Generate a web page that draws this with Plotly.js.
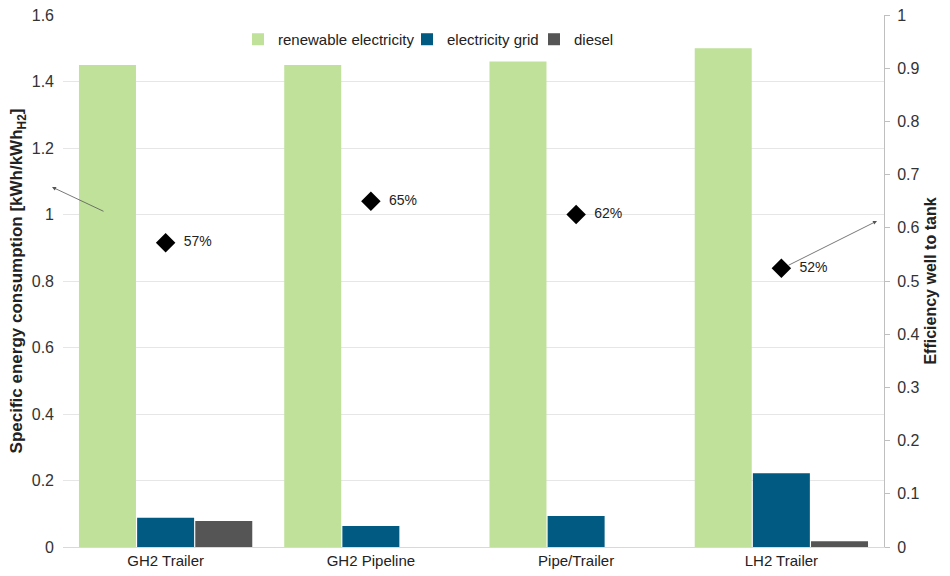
<!DOCTYPE html>
<html><head><meta charset="utf-8">
<script src="https://cdn.plot.ly/plotly-3.0.1.min.js"></script>
<style>body{margin:0;background:#fff}#c{width:950px;height:576px}</style>
</head><body><div id="c"></div>
<script>
const categories = ["GH2 Trailer", "GH2 Pipeline", "Pipe/Trailer", "LH2 Trailer"];
const renewable = [1.45, 1.45, 1.46, 1.50];
const grid = [0.088, 0.063, 0.093, 0.222];
const diesel = [0.078, 0, 0, 0.017];
const efficiency = [0.572, 0.65, 0.625, 0.524];
const effLabels = ["57%", "65%", "62%", "52%"];

const F = "Liberation Sans, Arial, sans-serif";
const px = v => (v - 63) / 821;
const traces = [
  {type:'bar', name:'renewable electricity', x:categories, y:renewable, marker:{color:'#bfe19a'}, legend:'legend'},
  {type:'bar', name:'electricity grid', x:categories, y:grid, marker:{color:'#005a82'}, legend:'legend2'},
  {type:'bar', name:'diesel', x:categories, y:diesel, marker:{color:'#555555'}, legend:'legend3'},
  {type:'scatter', mode:'markers+text', x:categories, y:efficiency, yaxis:'y2', showlegend:false,
   text:effLabels.map(t=>'  '+t), textposition:'middle right', textfont:{size:14, color:'#222', family:F},
   marker:{symbol:'diamond', size:15, color:'#000'}}
];
const leg = x => ({orientation:'h', x:px(x), xanchor:'left', y:0.985, yanchor:'top', font:{size:15, color:'#222'}, itemwidth:30, bgcolor:'rgba(0,0,0,0)'});
const layout = {
  width:950, height:576,
  margin:{l:63, r:66, t:15, b:29},
  paper_bgcolor:'#fff', plot_bgcolor:'#fff',
  font:{family:F, color:'#333'},
  barmode:'group', bargap:0.15, bargroupgap:0.02,
  showlegend:true,
  legend:leg(238), legend2:leg(407), legend3:leg(534),
  xaxis:{tickfont:{size:15, color:'#222'}, showline:true, linecolor:'#d9d9d9', ticks:'', automargin:false},
  yaxis:{range:[0,1.6], dtick:0.2, tickfont:{size:16, color:'#333'}, gridcolor:'#e6e6e6', zeroline:false, showline:false,
    ticklabelstandoff:8, automargin:false,
    title:{text:'<b>Specific energy consumption [kWh/kWh<sub>H2</sub>]</b>', font:{size:17, color:'#222'}, standoff:4}},
  yaxis2:{overlaying:'y', side:'right', range:[0,1], dtick:0.1, showgrid:false, zeroline:false, showline:true, linecolor:'#bfbfbf',
    ticks:'outside', ticklen:5, tickcolor:'#bfbfbf', tickfont:{size:16, color:'#333'}, automargin:false, ticklabelstandoff:4,
    title:{text:'<b>Efficiency well to tank</b>', font:{size:16, color:'#222'}, standoff:6}},
  annotations:[
    {xref:'paper', yref:'paper', x:(52-63)/821, y:(547-187)/532, ax:53, ay:25, text:'', showarrow:true, arrowhead:2, arrowsize:1, arrowwidth:0.8, arrowcolor:'#555'},
    {xref:'paper', yref:'paper', x:(877-63)/821, y:(547-221)/532, ax:-90, ay:45, text:'', showarrow:true, arrowhead:2, arrowsize:1, arrowwidth:0.8, arrowcolor:'#555'}
  ]
};
Plotly.newPlot('c', traces, layout, {displayModeBar:false});
</script></body></html>
